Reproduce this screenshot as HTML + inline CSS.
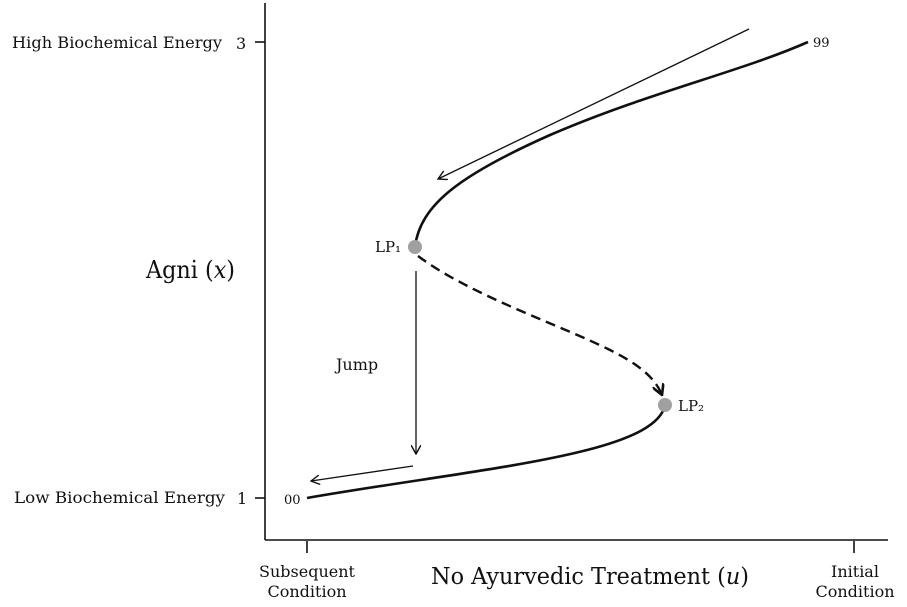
<!DOCTYPE html>
<html><head><meta charset="utf-8"><style>
html,body{margin:0;padding:0;background:#fff;width:907px;height:607px;overflow:hidden}
svg{display:block}
text{font-family:"DejaVu Serif","Liberation Serif",serif;fill:#111}
</style></head><body>
<svg width="907" height="607" viewBox="0 0 907 607" xmlns="http://www.w3.org/2000/svg">
<defs>
<marker id="a" viewBox="0 0 10 10" refX="9" refY="5" markerWidth="10" markerHeight="10" markerUnits="userSpaceOnUse" orient="auto">
<path d="M0,0 L9,5 L0,10" fill="none" stroke="#111" stroke-width="1.4"/></marker>
<marker id="b" viewBox="0 0 10 10" refX="9" refY="5" markerWidth="12" markerHeight="12" markerUnits="userSpaceOnUse" orient="auto">
<path d="M0,0 L9,5 L0,10" fill="none" stroke="#111" stroke-width="2.2"/></marker>
</defs>
<g stroke="#111" stroke-width="1.6" fill="none">
<line x1="265" y1="3" x2="265" y2="540"/>
<line x1="265" y1="540" x2="888" y2="540"/>
<line x1="255" y1="42" x2="265" y2="42"/>
<line x1="255" y1="498" x2="265" y2="498"/>
<line x1="307" y1="541" x2="307" y2="553"/>
<line x1="854" y1="541" x2="854" y2="553"/>
</g>
<g fill="none" stroke="#111" stroke-width="2.6">
<path d="M415,247 C420,205 460,175 550,135 C650,92 740,72 808,42"/>
<path d="M307,498 C480,468 655,455 665,405"/>
</g>
<path d="M418,256 C470,295 560,325 610,350 C640,365 655,378 662,395" fill="none" stroke="#111" stroke-width="2.4" stroke-dasharray="10,6" marker-end="url(#b)"/>
<g stroke="#111" stroke-width="1.3" fill="none">
<line x1="749" y1="29" x2="438" y2="179" marker-end="url(#a)"/>
<line x1="416" y1="271" x2="416" y2="454" marker-end="url(#a)"/>
<line x1="413" y1="466" x2="311" y2="481" marker-end="url(#a)"/>
</g>
<circle cx="415" cy="247" r="7" fill="#a0a0a0"/>
<circle cx="665" cy="405" r="7" fill="#a0a0a0"/>
<text x="12" y="48" font-size="16" textLength="210" lengthAdjust="spacingAndGlyphs">High Biochemical Energy</text>
<text x="236" y="49" font-size="16">3</text>
<text x="14" y="503" font-size="16" textLength="211" lengthAdjust="spacingAndGlyphs">Low Biochemical Energy</text>
<text x="237" y="504" font-size="16">1</text>
<text x="146" y="278" font-size="24" textLength="89" lengthAdjust="spacingAndGlyphs">Agni (<tspan font-style="italic">x</tspan>)</text>
<text x="375" y="252" font-size="15">LP₁</text>
<text x="678" y="411" font-size="15">LP₂</text>
<text x="813" y="47" font-size="13">99</text>
<text x="284" y="504" font-size="13">00</text>
<text x="336" y="370" font-size="16">Jump</text>
<text x="431" y="584" font-size="23" textLength="318" lengthAdjust="spacingAndGlyphs">No Ayurvedic Treatment (<tspan font-style="italic">u</tspan>)</text>
<text x="307" y="577" font-size="16" text-anchor="middle">Subsequent</text>
<text x="307" y="597" font-size="16" text-anchor="middle">Condition</text>
<text x="855" y="577" font-size="16" text-anchor="middle">Initial</text>
<text x="855" y="597" font-size="16" text-anchor="middle">Condition</text>
</svg>
</body></html>
